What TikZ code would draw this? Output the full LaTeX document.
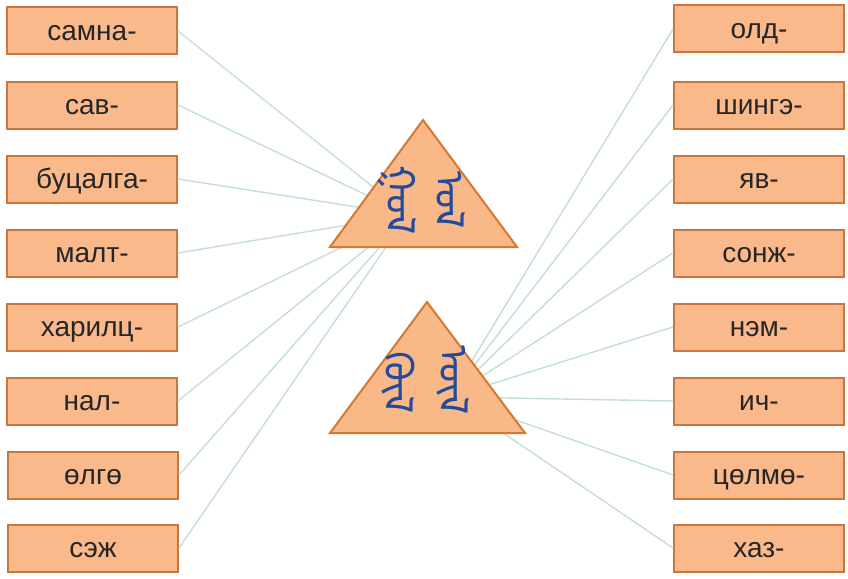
\documentclass[tikz,border=0pt]{standalone}
\usepackage{fontspec}
\setmainfont{Liberation Sans}
\newfontfamily\mongfont[Script=Mongolian]{Noto Sans Mongolian}
\usepackage{tikz}
\usetikzlibrary{positioning}
\usetikzlibrary{calc}

\definecolor{boxfill}{RGB}{249,185,139}
\definecolor{boxline}{RGB}{204,118,62}
\definecolor{trifill}{RGB}{248,184,136}
\definecolor{triline}{RGB}{214,120,50}
\definecolor{linkcol}{RGB}{196,222,216}
\definecolor{mongblue}{RGB}{36,74,158}

\tikzset{
  wordbox/.style={draw=boxline, fill=boxfill, line width=2pt, minimum width=170pt, minimum height=47pt,
    inner sep=0pt, text height=19pt, text depth=0pt, font=\fontsize{28}{30}\selectfont, text=black!85},
  link/.style={draw=linkcol, line width=1.4pt},
  tri/.style={draw=triline, fill=trifill, line width=2pt, line join=miter},
  mong/.style={font=\mongfont\fontsize{40}{42}\selectfont, text=mongblue, rotate=-90, inner sep=0pt}
}

\begin{document}
\begin{tikzpicture}[x=1pt, y=-1pt]
\useasboundingbox (0,0) rectangle (848,578);

\node[wordbox] (w1) at (92,31) {самна-};
\node[wordbox] (w2) at (92,105) {сав-};
\node[wordbox] (w3) at (92,179) {буцалга-};
\node[wordbox] (w4) at (92,253) {малт-};
\node[wordbox] (w5) at (92,327) {харилц-};
\node[wordbox] (w6) at (92,401) {нал-};
\node[wordbox] (w7) at (93,475) {өлгө};
\node[wordbox] (w8) at (93,548) {сэж};

\node[wordbox] (v1) at (759,29) {олд-};
\node[wordbox] (v2) at (759,105) {шингэ-};
\node[wordbox] (v3) at (759,179) {яв-};
\node[wordbox] (v4) at (759,253) {сонж-};
\node[wordbox] (v5) at (759,327) {нэм-};
\node[wordbox] (v6) at (759,401) {ич-};
\node[wordbox] (v7) at (759,475) {цөлмө-};
\node[wordbox] (v8) at (759,548) {хаз-};

\coordinate (t1) at (330,247);
\coordinate (t2) at (330,433);
\coordinate (hub1) at ([shift={(78,-32)}]t1);
\coordinate (hub2) at ([shift={(120,-36)}]t2);

\draw[link] (w1.east) -- (hub1);
\draw[link] (w2.east) -- (hub1);
\draw[link] (w3.east) -- (hub1);
\draw[link] (w4.east) -- (hub1);
\draw[link] (w5.east) -- (hub1);
\draw[link] (w6.east) -- (hub1);
\draw[link] (w7.east) -- (hub1);
\draw[link] (w8.east) -- (hub1);

\draw[link] (v1.west) -- (hub2);
\draw[link] (v2.west) -- (hub2);
\draw[link] (v3.west) -- (hub2);
\draw[link] (v4.west) -- (hub2);
\draw[link] (v5.west) -- (hub2);
\draw[link] (v6.west) -- (hub2);
\draw[link] (v7.west) -- (hub2);
\draw[link] (v8.west) -- (hub2);

\draw[tri] (t1) -- ([shift={(93,-127)}]t1) -- ([shift={(187,0)}]t1) -- cycle;
\draw[tri] (t2) -- ([shift={(97,-131)}]t2) -- ([shift={(195,0)}]t2) -- cycle;

\node[mong] (m1a) at ([shift={(67,-47)}]t1) {ᠭᠤᠯ};
\node[mong] (m1b) at ([shift={(120,-47)}]t1) {ᠤᠯ};
\node[mong] (m2a) at ([shift={(68,-50)}]t2) {ᠭᠦᠯ};
\node[mong] (m2b) at ([shift={(123,-53)}]t2) {ᠦᠯ};
\end{tikzpicture}
\end{document}
